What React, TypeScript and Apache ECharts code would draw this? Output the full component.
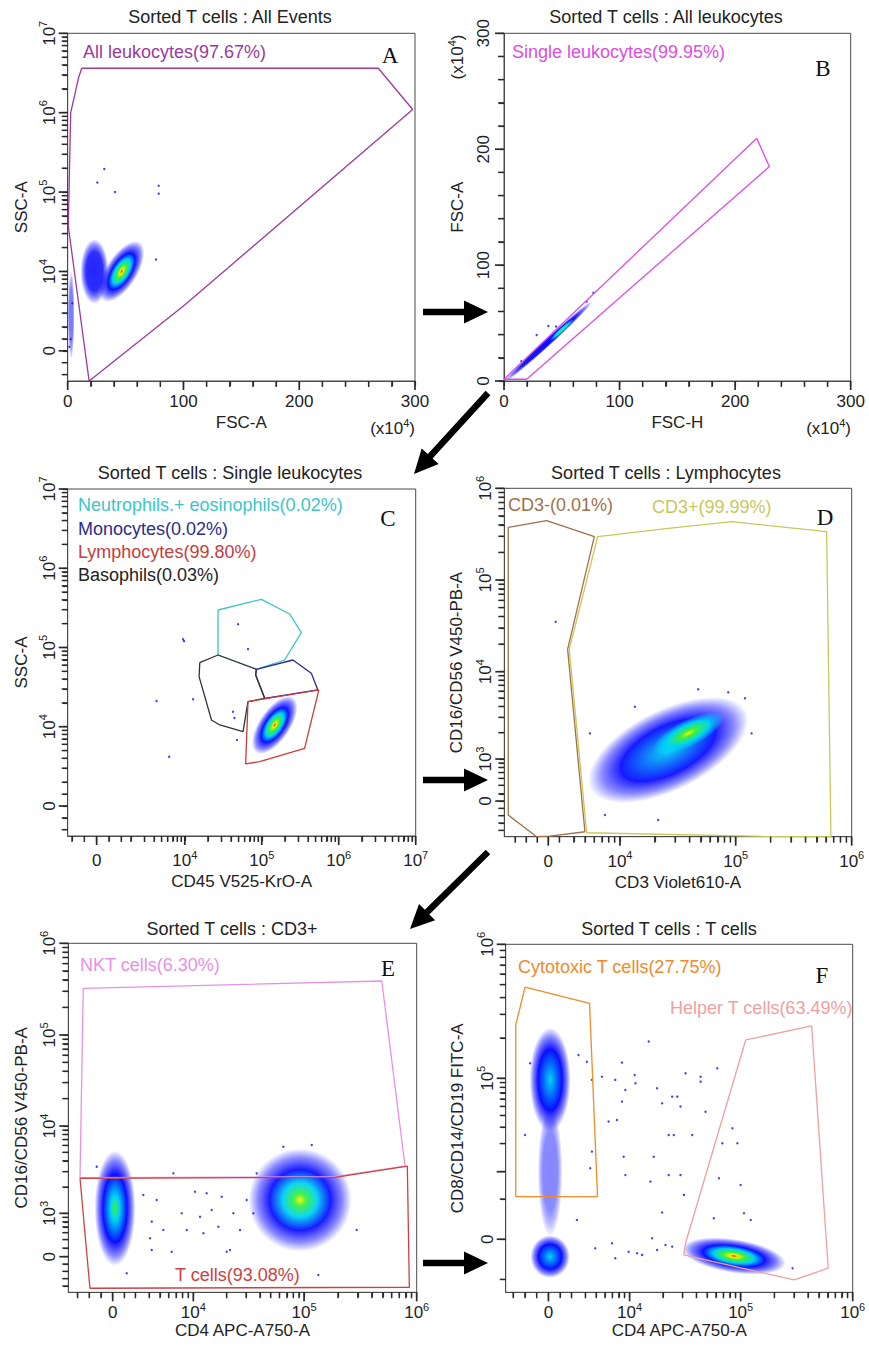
import React, { useEffect, useRef } from 'react';
import * as echarts from 'echarts';

const FONT = '"Liberation Sans", Arial, Helvetica, sans-serif';
const SERIF = '"Liberation Serif", "Times New Roman", serif';

// ---------------- texts ----------------
const panelTitles = [
  'Sorted T cells : All Events',
  'Sorted T cells : All leukocytes',
  'Sorted T cells : Single leukocytes',
  'Sorted T cells : Lymphocytes',
  'Sorted T cells : CD3+',
  'Sorted T cells : T cells',
];
const panelLetters = ['A', 'B', 'C', 'D', 'E', 'F'];
const xAxisNames = ['FSC-A', 'FSC-H', 'CD45 V525-KrO-A', 'CD3 Violet610-A', 'CD4 APC-A750-A', 'CD4 APC-A750-A'];
const yAxisNames = ['SSC-A', 'FSC-A', 'SSC-A', 'CD16/CD56 V450-PB-A', 'CD16/CD56 V450-PB-A', 'CD8/CD14/CD19 FITC-A'];

// ---------------- tick definitions (axis display units) ----------------
const fscTicks = [0, 100, 200, 300];
const decA_y = [[1, 4, 1], [2, 5, 1], [3, 6, 1], [4, 7, 1]];
const decC_x = [[1.145, 4, 1], [2.145, 5, 1], [3.145, 6, 1], [4.145, 7, 1]];
const decC_y = [[1, 4, 1], [2, 5, 1], [3, 6, 1], [4, 7, 1]];
const decD_x = [[0.618, 4, 1], [1.616, 5, 1], [2.616, 6, 1]];
const decD_y = [[0.458, 3, 1], [1.41, 4, 1], [2.41, 5, 1], [3.41, 6, 1]];
const decE_x = [[0.723, 4, 1], [1.716, 5, 1], [2.726, 6, 1]];
const decE_y = [[0.474, 3, 1], [1.428, 4, 1], [2.423, 5, 1], [3.425, 6, 1]];
const decF_x = [[0.726, 4, 1], [1.719, 5, 1], [2.721, 6, 1]];
const decF_y = [[0.504, 4, 0], [1.201, 5, 1], [2.201, 6, 1]];

// ---------------- gates ----------------
const gateA_all = [[12.1, 3.56], [268.3, 3.56], [298, 3.04], [101.3, 0.58], [18.5, -0.38], [0.5, 1.57], [2.6, 3.0], [9.2, 3.43]];
const gateB_single = [[0, 1.5], [218.7, 209.4], [229.6, 185], [19.6, 1.5]];
const gateC_neutro = [[1.577, 2.473], [2.14, 2.608], [2.507, 2.423], [2.659, 2.187], [2.442, 1.842], [2.075, 1.725], [1.577, 1.905]];
const gateC_mono = [[2.075, 1.725], [2.55, 1.842], [2.789, 1.674], [2.874, 1.464], [2.183, 1.359], [2.066, 1.653]];
const gateC_baso = [[1.577, 1.905], [1.34, 1.808], [1.331, 1.632], [1.492, 1.085], [1.599, 1.022], [1.902, 0.938], [1.966, 1.316], [2.183, 1.359], [2.066, 1.653], [2.075, 1.725]];
const gateC_lympho = [[1.966, 1.316], [2.887, 1.464], [2.702, 0.728], [2.118, 0.559], [1.936, 0.53]];
const gateD_cd3neg = [[-0.345, 2.985], [-0.014, 3.057], [0.397, 2.882], [0.167, 1.654], [0.316, -0.335], [0.015, -0.382], [-0.1, -0.389], [-0.345, -0.153]];
const gateD_cd3pos = [[0.426, 2.882], [1.034, 2.974], [1.581, 3.046], [2.4, 2.937], [2.437, -0.389], [1.853, -0.385], [0.331, -0.346], [0.181, 1.654]];
const gateE_nkt = [[-0.264, 2.933], [2.413, 3.013], [2.621, 0.991], [1.994, 0.874], [-0.293, 0.863]];
const gateE_t = [[-0.293, 0.857], [1.994, 0.868], [2.642, 0.991], [2.66, -0.334], [-0.204, -0.345]];
const gateF_cyto = [[-0.209, 1.881], [0.368, 1.761], [0.439, 0.318], [-0.292, 0.318], [-0.292, 1.599]];
const gateF_helper = [[1.764, 1.487], [2.354, 1.592], [2.502, -0.216], [2.197, -0.304], [1.211, -0.117], [1.226, -0.03]];

// ---------------- density clouds: [cx, cy, ux, uy, vx, vy, peakHeat, edgeHeat, alpha] ----------------
const cloudsA = [
  [46.6, 1.0, 14.2, 0.331, 10.3, -0.093, 4, 0, 1],
  [23.1, 1.0, 0, 0.365, 10.8, 0, 0, 0, 0.9],
  [3, 0.45, 0, 0.5, 2.5, 0, 0, 0, 0.55],
];
const cloudsB = [
  [38.4, 34, 34.6, 31.6, 2.0, -2.2, 0, 0, 1],
  [50, 44, 9, 8.2, 1.2, -1.3, 2, 1, 1],
];
const cloudsC = [[2.313, 1.022, 0.218, 0.314, 0.15, -0.098, 4, 0, 1]];
const cloudsD = [
  [1.034, 0.556, 0.601, 0.38, 0.139, -0.351, 1, 0, 0.95],
  [1.207, 0.738, 0.27, 0.171, 0.046, -0.117, 3, 1, 1],
];
const cloudsE = [
  [0.021, 0.529, 0, 0.563, 0.164, 0, 2, 0, 1],
  [1.68, 0.62, 0.413, 0, 0, 0.503, 3, 0, 0.95],
];
const cloudsF = [
  [0.015, 1.189, 0, 0.347, 0.164, 0, 1, 0, 1],
  [0.015, 0.504, 0, 0.433, 0.099, 0, 0, 0, 0.5],
  [0.015, -0.13, 0, 0.142, 0.157, 0, 1, 0, 1],
  [1.659, -0.125, 0.413, -0.052, 0.018, 0.112, 4, 0, 1],
];

// ---------------- isolated events ----------------
const dotsA = [[31.6, 2.29], [25.6, 2.12], [40.9, 2.0], [78.6, 2.08], [78.6, 1.98], [76.3, 1.15], [2.5, 0.15], [1.5, 0.05], [4, 0.6]];
const dotsB = [[77.3, 76.2], [28.3, 39.7], [38.4, 47.5], [71.5, 68.5], [15, 17], [45, 47]];
const dotsC = [[1.837, 2.293], [1.966, 1.981], [1.123, 2.103], [1.135, 2.08], [0.778, 1.325], [1.253, 1.346], [0.942, 0.622], [1.772, 1.19], [1.79, 1.11], [1.824, 0.833]];
const dotsD = [[0.064, 1.955], [1.293, 1.218], [1.552, 1.185], [1.696, 1.12], [0.747, 1.028], [0.489, -0.153], [0.948, -0.207], [1.753, 0.738], [0.359, 0.738]];
const dotsE = [
  [0.275, 0.674], [0.35, 0.383], [0.395, 0.62], [0.454, 0.292], [0.544, 0.911], [0.619, 0.474], [0.664, 0.292], [0.738, 0.71],
  [0.783, 0.437], [0.843, 0.693], [0.888, 0.51], [0.947, 0.328], [0.978, 0.656], [1.052, 0.073], [1.082, 0.474], [1.142, 0.292],
  [1.202, 0.62], [1.261, 0.474], [1.291, 0.911], [0.35, 0.073], [0.529, 0.055], [0.813, 0.256], [1.022, 0.055], [0.335, 0.201],
  [0.126, -0.181], [1.53, 1.202], [1.785, 1.221], [2.188, 0.292], [1.844, -0.2], [-0.143, 0.984],
];
const dotsF = [
  [0.269, 1.375], [0.344, 1.325], [0.389, 1.189], [0.479, 1.213], [0.598, 1.189], [0.658, 1.318], [0.688, 1.114], [0.771, 1.226],
  [0.658, 1.027], [0.538, 0.878], [0.613, 0.89], [0.778, 1.164], [0.897, 1.475], [0.972, 1.127], [1.017, 1.015], [1.107, 1.064],
  [1.152, 1.064], [1.181, 0.99], [1.226, 1.239], [1.361, 1.213], [1.361, 1.176], [1.51, 1.276], [1.076, 0.778], [1.121, 0.778],
  [0.942, 0.616], [0.912, 0.43], [1.076, 0.48], [1.286, 0.778], [1.181, 0.48], [1.211, 0.331], [1.405, 0.952], [1.555, 0.716],
  [1.645, 0.828], [1.69, 0.716], [1.525, 0.455], [1.719, 0.405], [0.673, 0.616], [0.688, 0.48], [0.389, 0.654], [0.255, 0.144],
  [1.017, 0.199], [0.927, 0.007], [1.047, -0.043], [0.793, -0.104], [0.419, -0.067], [0.569, -0.03], [0.598, -0.142], [0.717, -0.093],
  [0.838, -0.117], [0.972, -0.08], [1.107, -0.055], [1.749, 0.194], [1.809, 0.144], [1.479, 0.157], [2.183, -0.216], [-0.209, 0.778],
  [-0.164, 1.313], [0.374, 0.53],
];

// ---------------- gate labels ----------------
const gateLabels = [
  { t: 'All leukocytes(97.67%)', x: 83, y: 52, c: '#9b3a9b' },
  { t: 'Single leukocytes(99.95%)', x: 512, y: 52, c: '#e04ce0' },
  { t: 'Neutrophils.+ eosinophils(0.02%)', x: 78, y: 505, c: '#3ec4c8' },
  { t: 'Monocytes(0.02%)', x: 78, y: 528.5, c: '#2c2c8c' },
  { t: 'Lymphocytes(99.80%)', x: 78, y: 552, c: '#c83c3c' },
  { t: 'Basophils(0.03%)', x: 78, y: 575, c: '#222222' },
  { t: 'CD3-(0.01%)', x: 508, y: 505, c: '#a0704a' },
  { t: 'CD3+(99.99%)', x: 652, y: 507, c: '#c8c85a' },
  { t: 'NKT cells(6.30%)', x: 80, y: 965, c: '#e890e8' },
  { t: 'T cells(93.08%)', x: 175, y: 1275, c: '#d04040' },
  { t: 'Cytotoxic T cells(27.75%)', x: 518, y: 967, c: '#f08a2a' },
  { t: 'Helper T cells(63.49%)', x: 670, y: 1008, c: '#f0a0a0' },
];

// ---------------- layout ----------------
const grids = [
  { left: 67.7, top: 33.3, width: 347.3, height: 347.7 },
  { left: 504, top: 33.3, width: 346.7, height: 347.7 },
  { left: 67.7, top: 489, width: 348, height: 347 },
  { left: 504.3, top: 488.3, width: 347.4, height: 348.4 },
  { left: 68.3, top: 943.3, width: 348.4, height: 349 },
  { left: 505.7, top: 944.3, width: 347, height: 348 },
];
const xNameGaps = [33, 33, 37, 37, 29.5, 29.5];
const yNameGaps = [38, 38, 38, 39, 38, 40];
const xLabelMargins = [12, 12, 13, 13, 9, 9];
const LC = '#4a4a4a';
const TC = '#2a2a2a';

const HEAT = ['#0a0aff', '#00d4f4', '#3cf03c', '#ffee00', '#ff1800'];

function rgba(hex: string, a: number) {
  const n = parseInt(hex.slice(1), 16);
  return `rgba(${(n >> 16) & 255},${(n >> 8) & 255},${n & 255},${a})`;
}

function heatStops(h: number, b: number, alpha: number) {
  const st: any[] = [];
  const inner = 0.6;
  if (h === b) {
    st.push({ offset: 0, color: rgba(HEAT[h], alpha) });
  } else {
    for (let i = h; i >= b; i--) {
      st.push({ offset: inner * Math.pow((h - i) / (h - b), 1.5), color: rgba(HEAT[i], alpha) });
    }
  }
  st.push({ offset: inner, color: rgba(HEAT[b], alpha * 0.95) });
  st.push({ offset: 0.82, color: rgba(HEAT[b], alpha * 0.5) });
  st.push({ offset: 1, color: rgba(HEAT[b], 0) });
  return st;
}

function cloudRender(params: any, api: any) {
  const cx = api.value(0), cy = api.value(1);
  const c = api.coord([cx, cy]);
  const pu = api.coord([cx + api.value(2), cy + api.value(3)]);
  const pv = api.coord([cx + api.value(4), cy + api.value(5)]);
  const U = [pu[0] - c[0], pu[1] - c[1]];
  const V = [pv[0] - c[0], pv[1] - c[1]];
  const E = (U[0] + V[1]) / 2, F = (U[0] - V[1]) / 2, G = (U[1] + V[0]) / 2, Hh = (U[1] - V[0]) / 2;
  const Q = Math.hypot(E, Hh), R = Math.hypot(F, G);
  const k = 1.12;
  const a = (Q + R) * k, b = Math.max(Math.abs(Q - R), 0.8) * k;
  const phi = (Math.atan2(Hh, E) + Math.atan2(G, F)) / 2;
  const pts: number[][] = [];
  for (let i = 0; i < 60; i++) {
    const t = (Math.PI * 2 * i) / 60;
    pts.push([a * Math.cos(t), b * Math.sin(t)]);
  }
  const grad = new echarts.graphic.RadialGradient(0.5, 0.5, 0.5, heatStops(api.value(6), api.value(7), api.value(8)));
  return { type: 'polygon', x: c[0], y: c[1], rotation: -phi, shape: { points: pts }, style: { fill: grad }, silent: true };
}

function linearAxisDef(min: number, max: number, labels: number[], minorStep: number) {
  const minor: number[] = [];
  for (let v = min; v <= max + 1e-9; v += minorStep) {
    if (!labels.some((l) => Math.abs(l - v) < 1e-9)) minor.push(v);
  }
  return { min, max, major: labels.slice(), labels: labels.map((v) => [v, String(v)]), minor, rich: false };
}

function bioAxisDef(min: number, max: number, decs: number[][], zeroStep: number, logBelow = true) {
  const labels: any[] = [[0, '0']];
  const major = [0];
  decs.forEach((d) => {
    major.push(d[0]);
    if (d[2]) labels.push([d[0], '10^' + d[1]]);
  });
  const minor: number[] = [];
  for (let i = 0; i < decs.length - 1; i++) {
    const p0 = decs[i][0], p1 = decs[i + 1][0];
    for (let m = 2; m <= 9; m++) minor.push(p0 + Math.log10(m) * (p1 - p0));
  }
  const d0 = decs[0][0];
  const span = decs.length > 1 ? decs[1][0] - d0 : 1;
  let firstLog = d0;
  if (logBelow) {
    for (let m = 9; m >= 2; m--) {
      const p = d0 + (Math.log10(m) - 1) * span;
      if (p > 0.8 * zeroStep) {
        minor.push(p);
        firstLog = p;
      }
    }
  }
  for (let v = zeroStep; v < firstLog - 0.6 * zeroStep; v += zeroStep) minor.push(v);
  for (let v = -zeroStep; v > min + 0.02; v -= zeroStep) minor.push(v);
  return { min, max, major, labels, minor, rich: true };
}

const axisDefs = [
  [linearAxisDef(0, 300, fscTicks, 20), bioAxisDef(-0.38, 4, decA_y, 0.15)],
  [linearAxisDef(0, 300, fscTicks, 20), linearAxisDef(0, 300, fscTicks, 20)],
  [bioAxisDef(-0.376, 4.145, decC_x, 0.16), bioAxisDef(-0.379, 4, decC_y, 0.15)],
  [bioAxisDef(-0.379, 2.616, decD_x, 0.095), bioAxisDef(-0.389, 3.41, decD_y, 0.08)],
  [bioAxisDef(-0.398, 2.726, decE_x, 0.105), bioAxisDef(-0.389, 3.425, decE_y, 0.08)],
  [bioAxisDef(-0.382, 2.721, decF_x, 0.105), bioAxisDef(-0.396, 2.201, decF_y, 0.3, false)],
];

function fmt(def: any) {
  return (v: number) => {
    const l = def.labels.find((q: any) => Math.abs(q[0] - v) < 1e-6);
    if (!l) return '';
    const t = l[1];
    if (!def.rich) return t;
    if (t.indexOf('10^') === 0) return '{b|10}{s|' + t.slice(3) + '}';
    return '{b|' + t + '}';
  };
}

function makeAxis(dim: string, gridIndex: number, def: any, name: string, nameGap: number, margin: number) {
  const isY = dim === 'y';
  return {
    type: 'value',
    gridIndex,
    min: def.min,
    max: def.max,
    position: isY ? 'left' : 'bottom',
    splitLine: { show: false },
    splitArea: { show: false },
    minorTick: { show: false },
    name,
    nameLocation: 'middle',
    nameGap,
    nameRotate: isY ? 90 : 0,
    nameMoveOverlap: false,
    nameTextStyle: { fontSize: 17, color: '#222', fontFamily: FONT },
    axisLine: { show: true, onZero: false, lineStyle: { color: LC, width: 1 } },
    axisTick: {
      show: true,
      inside: false,
      length: 5,
      customValues: def.major.concat(def.minor),
      lineStyle: { color: TC, width: 1.2, opacity: 1 },
    },
    axisLabel: {
      show: true,
      customValues: def.labels.map((l: any) => l[0]),
      formatter: fmt(def),
      rotate: isY ? 90 : 0,
      margin,
      fontSize: 17,
      color: '#222',
      fontFamily: FONT,
      hideOverlap: false,
      showMinLabel: true,
      showMaxLabel: true,
      rich: {
        b: { fontSize: 17, fontFamily: FONT, color: '#222', padding: [3, 0, 0, 0], verticalAlign: 'bottom' },
        s: { fontSize: 11, fontFamily: FONT, color: '#222', verticalAlign: 'top' },
      },
    },
  };
}

const panels = [
  { gates: [{ pts: gateA_all, c: '#9b3a9b' }], clouds: cloudsA, dots: dotsA },
  { gates: [{ pts: gateB_single, c: '#e04ce0' }], clouds: cloudsB, dots: dotsB },
  {
    gates: [
      { pts: gateC_neutro, c: '#3ec4c8' },
      { pts: gateC_mono, c: '#2c2c8c' },
      { pts: gateC_baso, c: '#333333' },
      { pts: gateC_lympho, c: '#c83c3c' },
    ],
    clouds: cloudsC,
    dots: dotsC,
  },
  { gates: [{ pts: gateD_cd3neg, c: '#a0704a' }, { pts: gateD_cd3pos, c: '#c8c85a' }], clouds: cloudsD, dots: dotsD },
  { gates: [{ pts: gateE_nkt, c: '#e890e8' }, { pts: gateE_t, c: '#d04040' }], clouds: cloudsE, dots: dotsE },
  { gates: [{ pts: gateF_cyto, c: '#f08a2a' }, { pts: gateF_helper, c: '#f0a0a0' }], clouds: cloudsF, dots: dotsF },
];

function arrowPts(x0: number, y0: number, x1: number, y1: number, sh = 3.2, hl = 24, hh = 11.5) {
  const dx = x1 - x0, dy = y1 - y0, L = Math.hypot(dx, dy);
  const ux = dx / L, uy = dy / L, nx = -uy, ny = ux;
  const bx = x1 - ux * hl, by = y1 - uy * hl;
  return [
    [x0 + nx * sh, y0 + ny * sh],
    [bx + nx * sh, by + ny * sh],
    [bx + nx * hh, by + ny * hh],
    [x1, y1],
    [bx - nx * hh, by - ny * hh],
    [bx - nx * sh, by - ny * sh],
    [x0 - nx * sh, y0 - ny * sh],
  ];
}

function baseGraphics() {
  const graphic: any[] = [];
  const titlePos = [[230, 17], [666, 17], [230, 473], [666, 473], [232, 929], [669, 929]];
  titlePos.forEach((tp, i) => {
    graphic.push({
      type: 'text',
      x: tp[0],
      y: tp[1],
      style: { text: panelTitles[i], fill: '#222', font: `18px ${FONT}`, align: 'center', verticalAlign: 'middle', textAlign: 'center', textVerticalAlign: 'middle' },
    });
  });
  const letterPos = [[390, 55], [823, 68], [388, 518], [825, 517], [388, 968], [822, 975]];
  letterPos.forEach((lp, i) => {
    graphic.push({
      type: 'text',
      x: lp[0],
      y: lp[1],
      style: { text: panelLetters[i], fill: '#111', font: `23px ${SERIF}`, align: 'center', verticalAlign: 'middle', textAlign: 'center', textVerticalAlign: 'middle' },
    });
  });
  gateLabels.forEach((g) => {
    graphic.push({
      type: 'text',
      x: g.x,
      y: g.y,
      style: { text: g.t, fill: g.c, font: `18px ${FONT}`, align: 'left', verticalAlign: 'middle', textAlign: 'left', textVerticalAlign: 'middle' },
    });
  });
  const unitRich = {
    s: { fontSize: 11, fontFamily: FONT, fill: '#222', verticalAlign: 'top' },
    b: { fontSize: 17, fontFamily: FONT, fill: '#222', padding: [3, 0, 0, 0], verticalAlign: 'bottom' },
  };
  const units = [
    { x: 415, y: 427, r: 0 },
    { x: 851, y: 427, r: 0 },
    { x: 456, y: 57, r: Math.PI / 2 },
  ];
  units.forEach((u) => {
    graphic.push({
      type: 'text',
      x: u.x,
      y: u.y,
      rotation: u.r,
      style: {
        text: '{b|(x10}{s|4}{b|)}',
        rich: unitRich,
        fill: '#222',
        font: `17px ${FONT}`,
        align: u.r ? 'center' : 'right',
        verticalAlign: 'middle',
        textAlign: u.r ? 'center' : 'right',
        textVerticalAlign: 'middle',
      },
    });
  });
  const arrows = [
    [423, 312, 488, 312],
    [488, 393, 414, 474],
    [423, 780, 488, 780],
    [488, 852, 410, 929],
    [423, 1263, 488, 1263],
  ];
  arrows.forEach((a) => {
    graphic.push({ type: 'polygon', shape: { points: arrowPts(a[0], a[1], a[2], a[3]) }, style: { fill: '#000' } });
  });
  return graphic;
}

function buildOption() {
  const xAxis: any[] = [];
  const yAxis: any[] = [];
  const series: any[] = [];
  panels.forEach((p, i) => {
    const [xd, yd] = axisDefs[i];
    xAxis.push(makeAxis('x', i, xd, xAxisNames[i], xNameGaps[i], xLabelMargins[i]));
    yAxis.push(makeAxis('y', i, yd, yAxisNames[i], yNameGaps[i], yd.rich ? 10 : 12));
    series.push({
      type: 'custom',
      xAxisIndex: i,
      yAxisIndex: i,
      data: p.clouds,
      encode: { x: 0, y: 1 },
      renderItem: cloudRender,
      z: 2,
      silent: true,
      clip: true,
    });
    series.push({
      type: 'scatter',
      xAxisIndex: i,
      yAxisIndex: i,
      data: p.dots,
      symbolSize: 2.4,
      itemStyle: { color: '#1414e6' },
      z: 3,
      silent: true,
    });
    p.gates.forEach((g) => {
      series.push({
        type: 'line',
        xAxisIndex: i,
        yAxisIndex: i,
        data: [...g.pts, g.pts[0]],
        showSymbol: false,
        symbol: 'none',
        lineStyle: { color: g.c, width: 1.3 },
        z: 4,
        silent: true,
        clip: false,
      });
    });
  });

  return {
    animation: false,
    backgroundColor: '#ffffff',
    textStyle: { fontFamily: FONT },
    grid: grids.map((g) => ({ ...g, show: true, borderColor: LC, borderWidth: 1, backgroundColor: 'transparent', containLabel: false, outerBoundsMode: 'none' })),
    xAxis,
    yAxis,
    series,
    graphic: baseGraphics(),
  };
}

// tick marks as small filled polygons; positions converted to pixels through each grid's own axis scales
function tickGraphics(chart: any) {
  const out: any[] = [];
  const box = (x: number, y: number, w: number, h: number) => ({
    type: 'polygon',
    shape: { points: [[x, y], [x + w, y], [x + w, y + h], [x, y + h]] },
    style: { fill: TC },
    silent: true,
    z: 10,
  });
  axisDefs.forEach((pair: any, i: number) => {
    const [xd, yd] = pair;
    const conv = (pt: number[]) => chart.convertToPixel({ xAxisIndex: i, yAxisIndex: i }, pt);
    const xt = (v: number, len: number, w: number) => {
      const q = conv([v, yd.min]);
      if (q && isFinite(q[0]) && isFinite(q[1])) out.push(box(q[0] - w / 2, q[1], w, len));
    };
    const yt = (v: number, len: number, w: number) => {
      const q = conv([xd.min, v]);
      if (q && isFinite(q[0]) && isFinite(q[1])) out.push(box(q[0] - len, q[1] - w / 2, len, w));
    };
    xd.major.forEach((v: number) => xt(v, 9, 1.7));
    xd.minor.forEach((v: number) => xt(v, 6, 1.4));
    yd.major.forEach((v: number) => yt(v, 9, 1.7));
    yd.minor.forEach((v: number) => yt(v, 6, 1.4));
  });
  return out;
}

export default function App() {
  const ref = useRef<HTMLDivElement>(null);
  useEffect(() => {
    if (!ref.current) return;
    const chart = echarts.init(ref.current, null, { renderer: 'svg' });
    chart.setOption(buildOption() as any);
    try {
      const ticks = tickGraphics(chart);
      chart.setOption({ graphic: [...baseGraphics(), ...ticks] } as any);
    } catch (e) {
      // chart stays without extra tick marks
    }
    return () => chart.dispose();
  }, []);
  return <div ref={ref} style={{ position: 'absolute', left: 0, top: 0, width: 869, height: 1349, background: '#fff' }} />;
}
